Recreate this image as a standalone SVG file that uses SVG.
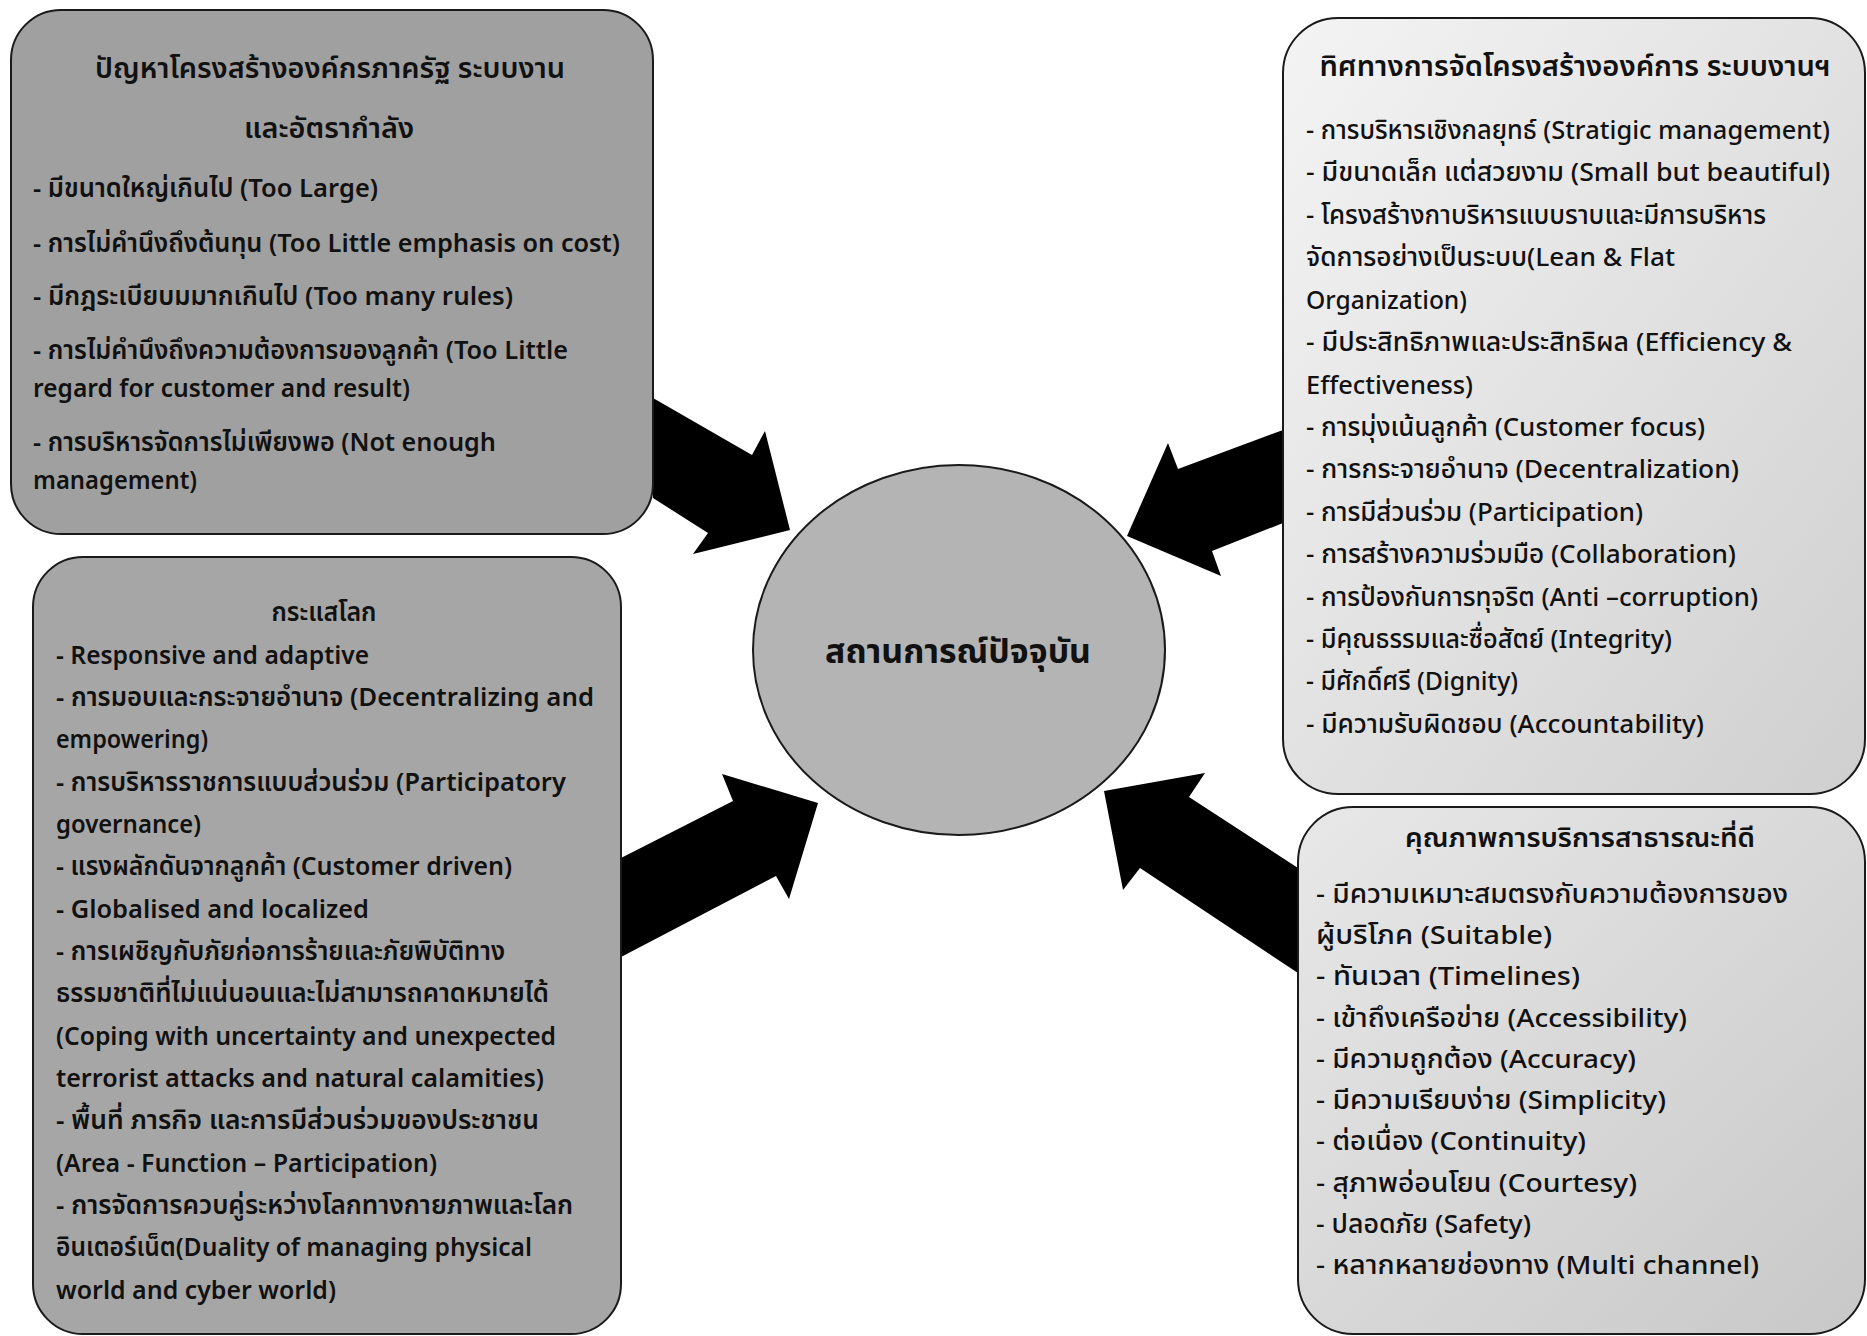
<svg xmlns="http://www.w3.org/2000/svg" width="1867" height="1336" viewBox="0 0 1867 1336">
<style>
text{font-family:"Noto Sans Thai","Noto Sans","Tahoma","DejaVu Sans",sans-serif;fill:#111}
.it{font-size:26px;font-weight:500}
.itb{font-size:26px;font-weight:600}
.ti{font-size:29px;font-weight:600;text-anchor:middle}
.tis{font-size:26px;font-weight:600;text-anchor:middle}
.box{stroke:#1a1a1a;stroke-width:2}
.arrow{fill:#000}
.ctr{font-size:34px;font-weight:700;text-anchor:middle}
</style>
<defs>
<linearGradient id="gLight" x1="0" y1="0" x2="1" y2="1">
<stop offset="0" stop-color="#f4f4f4"/>
<stop offset="1" stop-color="#cfcfcf"/>
</linearGradient>
<linearGradient id="gLight2" x1="0" y1="0" x2="1" y2="1">
<stop offset="0" stop-color="#e8e8e8"/>
<stop offset="1" stop-color="#c8c8c8"/>
</linearGradient>
</defs>
<rect width="1867" height="1336" fill="#fff"/>

<g id="connectors">
<polygon class="arrow" points="653,398 752,455 765,431 790,530 693,554 708,533 653,498"/>
<polygon class="arrow" points="1283,430 1178,469 1168,443 1127,536 1221,576 1212,551 1283,523"/>
<polygon class="arrow" points="621,858 733,801 722,774 818,803 789,899 776,876 621,957"/>
<polygon class="arrow" points="1298,868 1189,797 1205,773 1104,791 1123,890 1140,868 1298,973"/>
</g>

<g id="n-problems">
<rect class="box" x="11" y="10" width="642" height="524" rx="50" fill="#a0a0a0"/>
<text class="ti" x="330" y="78" textLength="470" lengthAdjust="spacingAndGlyphs">ปัญหาโครงสร้างองค์กรภาครัฐ ระบบงาน</text>
<text class="ti" x="329" y="138" textLength="170" lengthAdjust="spacingAndGlyphs">และอัตรากำลัง</text>
<text class="itb" x="33" y="197" textLength="345" lengthAdjust="spacingAndGlyphs">- มีขนาดใหญ่เกินไป (Too Large)</text>
<text class="itb" x="33" y="252" textLength="587" lengthAdjust="spacingAndGlyphs">- การไม่คำนึงถึงต้นทุน (Too Little emphasis on cost)</text>
<text class="itb" x="33" y="305" textLength="480" lengthAdjust="spacingAndGlyphs">- มีกฎระเบียบมมากเกินไป (Too many rules)</text>
<text class="itb" x="33" y="359" textLength="535" lengthAdjust="spacingAndGlyphs">- การไม่คำนึงถึงความต้องการของลูกค้า (Too Little</text>
<text class="itb" x="33" y="397" textLength="377" lengthAdjust="spacingAndGlyphs">regard for customer and result)</text>
<text class="itb" x="33" y="451" textLength="463" lengthAdjust="spacingAndGlyphs">- การบริหารจัดการไม่เพียงพอ (Not enough</text>
<text class="itb" x="33" y="489" textLength="164" lengthAdjust="spacingAndGlyphs">management)</text>
</g>

<g id="n-trends">
<rect class="box" x="33" y="557" width="588" height="777" rx="50" fill="#a6a6a6"/>
<text class="tis" x="324" y="621" textLength="105" lengthAdjust="spacingAndGlyphs">กระแสโลก</text>
<text class="itb" x="56" y="664" textLength="313" lengthAdjust="spacingAndGlyphs">- Responsive and adaptive</text>
<text class="itb" x="56" y="706" textLength="538" lengthAdjust="spacingAndGlyphs">- การมอบและกระจายอำนาจ (Decentralizing and</text>
<text class="itb" x="56" y="748" textLength="152" lengthAdjust="spacingAndGlyphs">empowering)</text>
<text class="itb" x="56" y="791" textLength="510" lengthAdjust="spacingAndGlyphs">- การบริหารราชการแบบส่วนร่วม (Participatory</text>
<text class="itb" x="56" y="833" textLength="145" lengthAdjust="spacingAndGlyphs">governance)</text>
<text class="itb" x="56" y="875" textLength="456" lengthAdjust="spacingAndGlyphs">- แรงผลักดันจากลูกค้า (Customer driven)</text>
<text class="itb" x="56" y="918" textLength="313" lengthAdjust="spacingAndGlyphs">- Globalised and localized</text>
<text class="itb" x="56" y="960" textLength="449" lengthAdjust="spacingAndGlyphs">- การเผชิญกับภัยก่อการร้ายและภัยพิบัติทาง</text>
<text class="itb" x="56" y="1002" textLength="493" lengthAdjust="spacingAndGlyphs">ธรรมชาติที่ไม่แน่นอนและไม่สามารถคาดหมายได้</text>
<text class="itb" x="56" y="1045" textLength="500" lengthAdjust="spacingAndGlyphs">(Coping with uncertainty and unexpected</text>
<text class="itb" x="56" y="1087" textLength="488" lengthAdjust="spacingAndGlyphs">terrorist  attacks and  natural calamities)</text>
<text class="itb" x="56" y="1129" textLength="483" lengthAdjust="spacingAndGlyphs">- พื้นที่ ภารกิจ และการมีส่วนร่วมของประชาชน</text>
<text class="itb" x="56" y="1172" textLength="381" lengthAdjust="spacingAndGlyphs">(Area - Function – Participation)</text>
<text class="itb" x="56" y="1214" textLength="517" lengthAdjust="spacingAndGlyphs">- การจัดการควบคู่ระหว่างโลกทางกายภาพและโลก</text>
<text class="itb" x="56" y="1256" textLength="476" lengthAdjust="spacingAndGlyphs">อินเตอร์เน็ต(Duality of managing physical</text>
<text class="itb" x="56" y="1299" textLength="280" lengthAdjust="spacingAndGlyphs">world and cyber world)</text>
</g>

<g id="n-direction">
<rect class="box" x="1283" y="18" width="582" height="776" rx="55" fill="url(#gLight)"/>
<text class="ti" x="1575" y="76" textLength="511" lengthAdjust="spacingAndGlyphs">ทิศทางการจัดโครงสร้างองค์การ ระบบงานฯ</text>
<text class="it" x="1306" y="139" textLength="524" lengthAdjust="spacingAndGlyphs">- การบริหารเชิงกลยุทธ์ (Stratigic management)</text>
<text class="it" x="1306" y="181" textLength="524" lengthAdjust="spacingAndGlyphs">-  มีขนาดเล็ก แต่สวยงาม (Small but beautiful)</text>
<text class="it" x="1306" y="224" textLength="460" lengthAdjust="spacingAndGlyphs">- โครงสร้างกาบริหารแบบราบและมีการบริหาร</text>
<text class="it" x="1306" y="266" textLength="369" lengthAdjust="spacingAndGlyphs">จัดการอย่างเป็นระบบ(Lean &amp; Flat</text>
<text class="it" x="1306" y="309" textLength="161" lengthAdjust="spacingAndGlyphs">Organization)</text>
<text class="it" x="1306" y="351" textLength="486" lengthAdjust="spacingAndGlyphs">- มีประสิทธิภาพและประสิทธิผล (Efficiency &amp;</text>
<text class="it" x="1306" y="394" textLength="167" lengthAdjust="spacingAndGlyphs">Effectiveness)</text>
<text class="it" x="1306" y="436" textLength="399" lengthAdjust="spacingAndGlyphs">- การมุ่งเน้นลูกค้า (Customer focus)</text>
<text class="it" x="1306" y="478" textLength="433" lengthAdjust="spacingAndGlyphs">- การกระจายอำนาจ (Decentralization)</text>
<text class="it" x="1306" y="521" textLength="337" lengthAdjust="spacingAndGlyphs">- การมีส่วนร่วม (Participation)</text>
<text class="it" x="1306" y="563" textLength="430" lengthAdjust="spacingAndGlyphs">- การสร้างความร่วมมือ (Collaboration)</text>
<text class="it" x="1306" y="606" textLength="452" lengthAdjust="spacingAndGlyphs">- การป้องกันการทุจริต (Anti –corruption)</text>
<text class="it" x="1306" y="648" textLength="366" lengthAdjust="spacingAndGlyphs">- มีคุณธรรมและซื่อสัตย์ (Integrity)</text>
<text class="it" x="1306" y="690" textLength="212" lengthAdjust="spacingAndGlyphs">- มีศักดิ์ศรี (Dignity)</text>
<text class="it" x="1306" y="733" textLength="398" lengthAdjust="spacingAndGlyphs">- มีความรับผิดชอบ (Accountability)</text>
</g>

<g id="n-quality">
<rect class="box" x="1298" y="807" width="567" height="527" rx="55" fill="url(#gLight2)"/>
<text class="tis" x="1580" y="847" textLength="350" lengthAdjust="spacingAndGlyphs">คุณภาพการบริการสาธารณะที่ดี</text>
<text class="it" x="1316" y="903" textLength="472" lengthAdjust="spacingAndGlyphs">- มีความเหมาะสมตรงกับความต้องการของ</text>
<text class="it" x="1316" y="944" textLength="236" lengthAdjust="spacingAndGlyphs">ผู้บริโภค (Suitable)</text>
<text class="it" x="1316" y="985" textLength="264" lengthAdjust="spacingAndGlyphs">- ทันเวลา (Timelines)</text>
<text class="it" x="1316" y="1027" textLength="371" lengthAdjust="spacingAndGlyphs">- เข้าถึงเครือข่าย (Accessibility)</text>
<text class="it" x="1316" y="1068" textLength="320" lengthAdjust="spacingAndGlyphs">- มีความถูกต้อง (Accuracy)</text>
<text class="it" x="1316" y="1109" textLength="350" lengthAdjust="spacingAndGlyphs">- มีความเรียบง่าย (Simplicity)</text>
<text class="it" x="1316" y="1150" textLength="270" lengthAdjust="spacingAndGlyphs">- ต่อเนื่อง (Continuity)</text>
<text class="it" x="1316" y="1192" textLength="321" lengthAdjust="spacingAndGlyphs">- สุภาพอ่อนโยน (Courtesy)</text>
<text class="it" x="1316" y="1233" textLength="215" lengthAdjust="spacingAndGlyphs">- ปลอดภัย (Safety)</text>
<text class="it" x="1316" y="1274" textLength="443" lengthAdjust="spacingAndGlyphs">- หลากหลายช่องทาง (Multi channel)</text>
</g>

<g id="n-current">
<ellipse class="box" cx="959" cy="650" rx="206" ry="185" fill="#b4b4b4"/>
<text class="ctr" x="958" y="663" textLength="266" lengthAdjust="spacingAndGlyphs">สถานการณ์ปัจจุบัน</text>
</g>
</svg>
